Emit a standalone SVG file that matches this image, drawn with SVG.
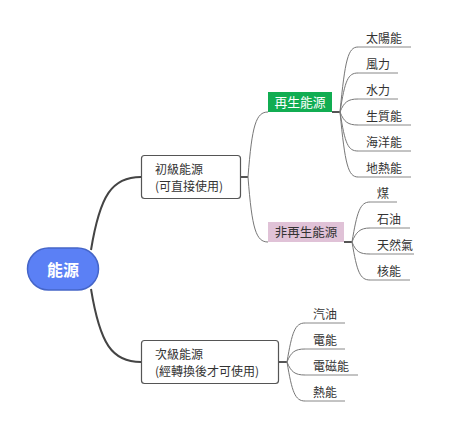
<svg xmlns="http://www.w3.org/2000/svg" width="450" height="429" viewBox="0 0 450 429">
<style>
text{font-family:"Noto Sans CJK TC","Noto Sans CJK SC",sans-serif;fill:#333;}
.leaf{font-size:12px;}
.node{font-size:12px;}
.c1{fill:none;stroke:#444;stroke-width:2;}
.c2{fill:none;stroke:#777;stroke-width:1;}
.ul{stroke:#888;stroke-width:1;}
.stub{stroke:#555;stroke-width:2;}
</style>
<rect width="450" height="429" fill="#fff"/>
<g id="connectors">
<path class="c1" d="M91,250 C100,195 112,177 141,177"/>
<path class="c1" d="M91,289 C100,344 112,362 141,362"/>
<line class="stub" x1="241" y1="177" x2="248" y2="177"/>
<path class="c2" d="M248,177 C252,125 256,112 268,112"/>
<path class="c2" d="M248,177 C252,229 256,242 268,242"/>
<line class="stub" x1="332" y1="112" x2="340" y2="112"/>
<path class="c2" d="M340,112 C345,60 348,47 358,47"/>
<path class="c2" d="M340,112 C345,80 348,73 358,73"/>
<path class="c2" d="M340,112 C344,102 348,99 358,99"/>
<path class="c2" d="M340,112 C344,122 348,125 358,125"/>
<path class="c2" d="M340,112 C345,144 348,151 358,151"/>
<path class="c2" d="M340,112 C345,164 348,177 358,177"/>
<line class="stub" x1="344" y1="242" x2="352" y2="242"/>
<path class="c2" d="M352,242 C357,212 360,202 370,202"/>
<path class="c2" d="M352,242 C356,232 360,228 370,228"/>
<path class="c2" d="M352,242 C356,252 360,254 370,254"/>
<path class="c2" d="M352,242 C357,272 360,280 370,280"/>
<line class="stub" x1="279" y1="362" x2="287" y2="362"/>
<path class="c2" d="M287,362 C292,332 295,323 305,323"/>
<path class="c2" d="M287,362 C291,352 295,349 305,349"/>
<path class="c2" d="M287,362 C291,372 295,375 305,375"/>
<path class="c2" d="M287,362 C292,392 295,401 305,401"/>
<line class="ul" x1="358" y1="47" x2="411" y2="47"/>
<line class="ul" x1="358" y1="73" x2="398" y2="73"/>
<line class="ul" x1="358" y1="99" x2="398" y2="99"/>
<line class="ul" x1="358" y1="125" x2="411" y2="125"/>
<line class="ul" x1="358" y1="151" x2="411" y2="151"/>
<line class="ul" x1="358" y1="177" x2="411" y2="177"/>
<line class="ul" x1="370" y1="202" x2="397" y2="202"/>
<line class="ul" x1="370" y1="228" x2="410" y2="228"/>
<line class="ul" x1="370" y1="254" x2="414" y2="254"/>
<line class="ul" x1="370" y1="280" x2="410" y2="280"/>
<line class="ul" x1="305" y1="323" x2="345" y2="323"/>
<line class="ul" x1="305" y1="349" x2="345" y2="349"/>
<line class="ul" x1="305" y1="375" x2="358" y2="375"/>
<line class="ul" x1="305" y1="401" x2="345" y2="401"/>
</g>
<g id="root">
<rect x="27.5" y="248" width="71" height="42" rx="21" fill="#5b80f5" stroke="#4565c8" stroke-width="1.5"/>
<text x="63" y="275.5" text-anchor="middle" font-size="16" font-weight="bold" style="fill:#fff">能源</text>
</g>
<g id="primary">
<rect x="141.5" y="155.5" width="99" height="43" rx="3" fill="#fff" stroke="#555" stroke-width="1.2"/>
<text class="node" x="155" y="174">初級能源</text>
<text class="node" x="155" y="191">(可直接使用)</text>
</g>
<g id="secondary">
<rect x="141.5" y="340.5" width="137" height="43" rx="3" fill="#fff" stroke="#555" stroke-width="1.2"/>
<text class="node" x="155" y="359">次級能源</text>
<text class="node" x="155" y="376">(經轉換後才可使用)</text>
</g>
<g id="renewable">
<rect x="268" y="92" width="64" height="20" fill="#11ad52"/>
<text x="300" y="107" text-anchor="middle" font-size="12.8" style="fill:#fff">再生能源</text>
</g>
<g id="nonrenewable">
<rect x="268" y="222" width="76" height="20" fill="#e0c2d7"/>
<text x="306" y="237" text-anchor="middle" font-size="12.5">非再生能源</text>
</g>
<g id="leaf-solar"><text class="leaf" x="366" y="43">太陽能</text></g>
<g id="leaf-wind"><text class="leaf" x="366" y="69">風力</text></g>
<g id="leaf-hydro"><text class="leaf" x="366" y="95">水力</text></g>
<g id="leaf-biomass"><text class="leaf" x="366" y="121">生質能</text></g>
<g id="leaf-ocean"><text class="leaf" x="366" y="147">海洋能</text></g>
<g id="leaf-geo"><text class="leaf" x="366" y="173">地熱能</text></g>
<g id="leaf-coal"><text class="leaf" x="377" y="198">煤</text></g>
<g id="leaf-oil"><text class="leaf" x="377" y="224">石油</text></g>
<g id="leaf-gas"><text class="leaf" x="377" y="250">天然氣</text></g>
<g id="leaf-nuclear"><text class="leaf" x="377" y="276">核能</text></g>
<g id="leaf-petrol"><text class="leaf" x="313" y="319">汽油</text></g>
<g id="leaf-electric"><text class="leaf" x="313" y="345">電能</text></g>
<g id="leaf-em"><text class="leaf" x="313" y="371">電磁能</text></g>
<g id="leaf-heat"><text class="leaf" x="313" y="397">熱能</text></g>
</svg>
